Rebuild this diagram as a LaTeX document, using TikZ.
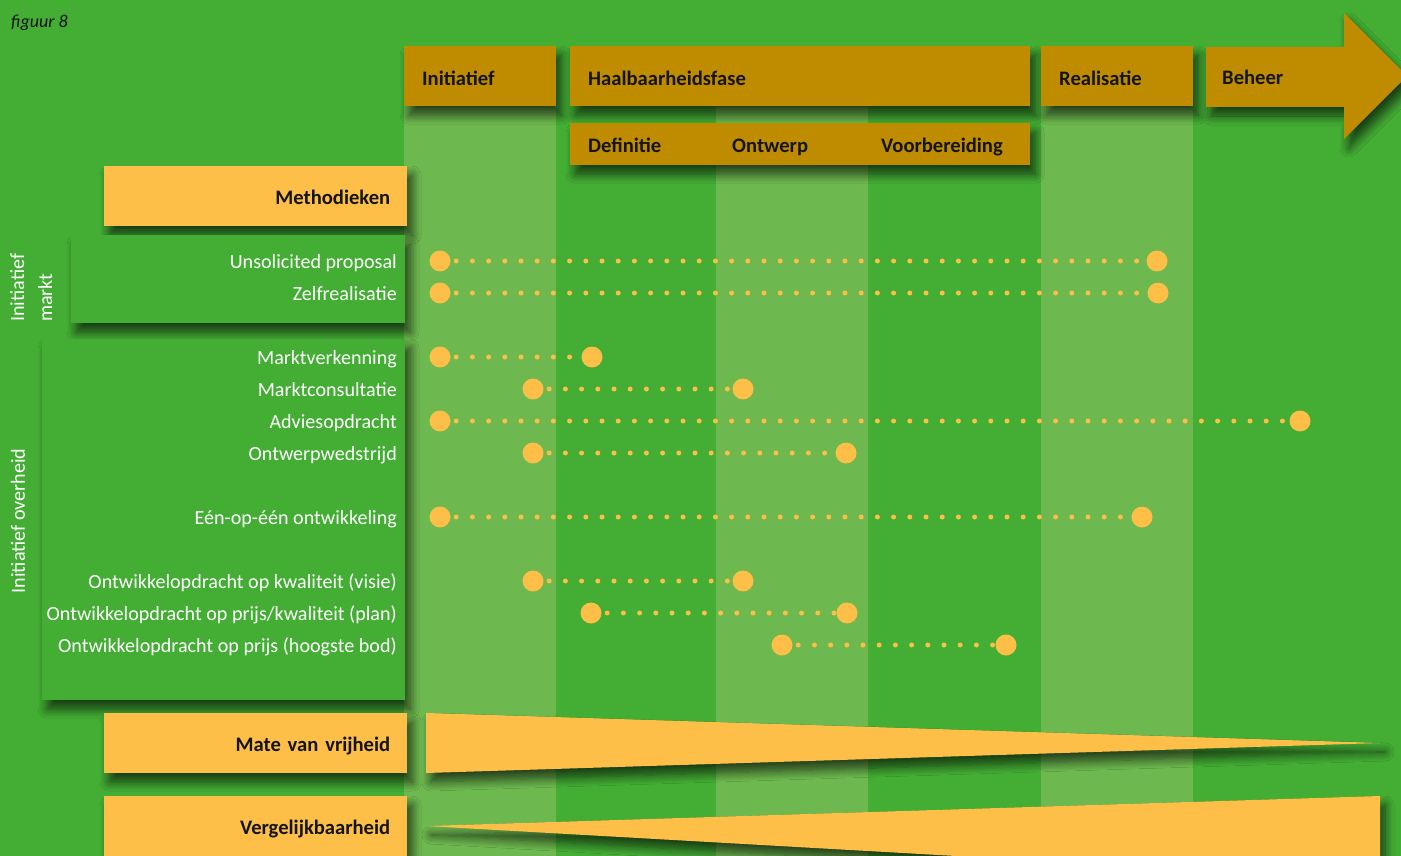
\documentclass[tikz,border=0pt]{standalone}
\usepackage{fontspec}
\setmainfont{Carlito}
\usetikzlibrary{shadows.blur}
\definecolor{bggreen}{HTML}{43AD34}
\definecolor{bandgreen}{HTML}{6DB84F}
\definecolor{gold}{HTML}{BF8C00}
\definecolor{peach}{HTML}{FDBF48}
\definecolor{ink}{HTML}{141414}
\begin{document}
\begin{tikzpicture}[x=1pt,y=-1pt,
  shade/.style={blur shadow={shadow xshift=5pt,shadow yshift=-9pt,shadow blur radius=9pt,shadow opacity=65,shadow blur steps=10}},
  phase/.style={shade,fill=gold,anchor=north west,inner xsep=18pt,inner ysep=0pt,align=left,text=ink,text height=18pt,text depth=0pt,font=\fontsize{20.6}{22}\selectfont\bfseries},
  kop/.style={shade,fill=peach,anchor=north west,inner xsep=17pt,inner ysep=0pt,minimum width=303pt,text width=269pt,minimum height=60pt,text height=16pt,text depth=0pt,align=right,text=ink,font=\fontsize{20.6}{22}\selectfont\bfseries},
  sublbl/.style={anchor=base west,inner sep=0pt,text=ink,font=\fontsize{20.6}{22}\selectfont\bfseries},
  panel/.style={shade,fill=bggreen,anchor=north west,inner sep=0pt},
  lbl/.style={anchor=base east,inner sep=0pt,text=white,font=\fontsize{20.1}{22}\selectfont},
  dot/.style={circle,fill=peach,inner sep=0pt,minimum size=21pt},
  dots/.style={peach,line width=5pt,line cap=round,dash pattern=on 0pt off 16.2pt}]
\useasboundingbox (0,0) rectangle (1401,856);
\fill[bggreen] (0,0) rectangle (1401,856);
\foreach \a/\b in {404/556,716/868,1041/1193}
  \fill[bandgreen] (\a,46) rectangle (\b,856);
\node[anchor=base west,inner sep=0pt,text=ink,font=\fontsize{18}{20}\selectfont\itshape] (fig) at (11,28) {figuur 8};
\node[phase,minimum width=152pt,text width=116pt,minimum height=60pt] (init) at (404,46) {Initiatief};
\node[phase,minimum width=460pt,text width=424pt,minimum height=60pt] (haal) at (570,46) {Haalbaarheidsfase};
\node[phase,minimum width=460pt,text width=424pt,minimum height=42pt] (sub) at (570,123) {};
\node[sublbl] (def) at (588,153) {Definitie};
\node[sublbl] (ontw) at (732,153) {Ontwerp};
\node[sublbl] (voorb) at (881,153) {Voorbereiding};
\node[phase,minimum width=152pt,text width=116pt,minimum height=60pt] (real) at (1041,46) {Realisatie};
\fill[gold,shade] (1206,47) -- (1344,47) -- (1344,13) -- (1407,76) -- (1344,139) -- (1344,107) -- (1206,107) -- cycle;
\node[sublbl] (beheer) at (1222,85) {Beheer};
\node[kop] (meth) at (104,166) {Methodieken};
\node[panel,minimum width=334pt,minimum height=88pt] (markt) at (71,235) {};
\node[panel,minimum width=363pt,minimum height=361pt] (overheid) at (42,339) {};
\node[rotate=90,anchor=north west,inner sep=0pt,align=left,text=white,font=\fontsize{20.1}{28}\selectfont] (imarkt) at (10,322) {Initiatief\\markt};
\node[rotate=90,inner sep=0pt,text=white,font=\fontsize{20.1}{22}\selectfont] (ioverheid) at (18,521) {Initiatief overheid};
\foreach \y/\a/\b/\txt [count=\i] in {
  261/440/1157/{Unsolicited proposal},
  293/440/1158/{Zelfrealisatie},
  357/440/592/{Marktverkenning},
  389/533/743/{Marktconsultatie},
  421/440/1300/{Adviesopdracht},
  453/533/846/{Ontwerpwedstrijd},
  517/440/1142/{Eén-op-één ontwikkeling},
  581/533/743/{Ontwikkelopdracht op kwaliteit (visie)},
  613/591/847/{Ontwikkelopdracht op prijs/kwaliteit (plan)},
  645/782/1006/{Ontwikkelopdracht op prijs (hoogste bod)}}
{
  \node[lbl] (l\i) at (397,\y+7) {\txt};
  \node[dot] (s\i) at (\a,\y) {};
  \node[dot] (e\i) at (\b,\y) {};
  \draw[dots] (s\i.center) -- (e\i.center);
}
\node[kop] (vrij) at (104,713) {Mate van vrijheid};
\node[kop] (verg) at (104,796) {Vergelijkbaarheid};
\fill[peach,shade] (426,713) -- (1380,743) -- (426,773) -- cycle;
\fill[peach,shade] (426,826) -- (1380,796) -- (1380,880) -- cycle;
\end{tikzpicture}
\end{document}
